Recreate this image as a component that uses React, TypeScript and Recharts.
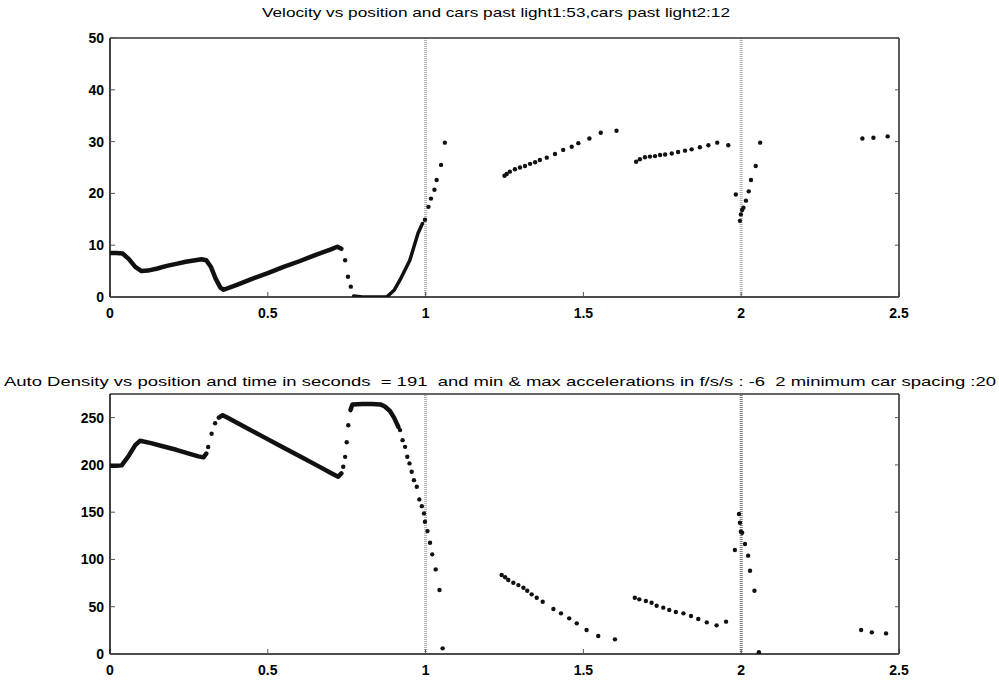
import React from 'react';
import { ComposedChart, Scatter, XAxis, YAxis, ReferenceLine } from 'recharts';

// --- velocity (top) ---
const velCurveA = [
  { x: 0, y: 8.5 }, { x: 0.02, y: 8.5 }, { x: 0.04, y: 8.4 }, { x: 0.06, y: 7.3 },
  { x: 0.08, y: 5.8 }, { x: 0.1, y: 5.0 }, { x: 0.12, y: 5.1 }, { x: 0.15, y: 5.5 },
  { x: 0.18, y: 6.0 }, { x: 0.21, y: 6.4 }, { x: 0.24, y: 6.8 }, { x: 0.27, y: 7.1 },
  { x: 0.29, y: 7.3 }, { x: 0.305, y: 7.1 }, { x: 0.32, y: 5.8 }, { x: 0.335, y: 3.5 },
  { x: 0.35, y: 1.8 }, { x: 0.36, y: 1.4 }, { x: 0.4, y: 2.3 }, { x: 0.45, y: 3.5 },
  { x: 0.5, y: 4.6 }, { x: 0.55, y: 5.8 }, { x: 0.6, y: 6.9 }, { x: 0.65, y: 8.1 },
  { x: 0.7, y: 9.2 }, { x: 0.72, y: 9.7 }, { x: 0.733, y: 9.3 },
];
const velCurveB = [
  { x: 0.772, y: 0.2 }, { x: 0.8, y: 0 }, { x: 0.84, y: 0 }, { x: 0.877, y: 0 },
  { x: 0.9, y: 1.3 }, { x: 0.919, y: 3.3 }, { x: 0.95, y: 7.1 }, { x: 0.976, y: 12.3 },
  { x: 0.99, y: 14.2 },
];
const velDots = [
  { x: 0.745, y: 7.1 }, { x: 0.754, y: 3.9 }, { x: 0.763, y: 2.0 },
  { x: 0.998, y: 14.9 }, { x: 1.009, y: 17.4 }, { x: 1.017, y: 19.0 }, { x: 1.028, y: 20.7 },
  { x: 1.035, y: 22.6 }, { x: 1.049, y: 25.5 }, { x: 1.061, y: 29.8 },
  { x: 1.25, y: 23.4 }, { x: 1.257, y: 23.75 }, { x: 1.267, y: 24.2 }, { x: 1.283, y: 24.65 },
  { x: 1.299, y: 25.0 }, { x: 1.315, y: 25.3 }, { x: 1.331, y: 25.7 }, { x: 1.347, y: 26.0 },
  { x: 1.362, y: 26.45 }, { x: 1.384, y: 26.9 }, { x: 1.41, y: 27.6 }, { x: 1.436, y: 28.4 },
  { x: 1.463, y: 29.0 }, { x: 1.484, y: 29.7 }, { x: 1.519, y: 30.6 }, { x: 1.555, y: 31.7 },
  { x: 1.605, y: 32.1 },
  { x: 1.667, y: 26.1 }, { x: 1.679, y: 26.6 }, { x: 1.695, y: 26.97 }, { x: 1.711, y: 27.1 },
  { x: 1.727, y: 27.2 }, { x: 1.743, y: 27.4 }, { x: 1.759, y: 27.5 }, { x: 1.78, y: 27.7 },
  { x: 1.8, y: 28.0 }, { x: 1.822, y: 28.25 }, { x: 1.843, y: 28.5 }, { x: 1.869, y: 28.9 },
  { x: 1.896, y: 29.3 }, { x: 1.924, y: 29.8 }, { x: 1.959, y: 29.3 },
  { x: 1.983, y: 19.8 }, { x: 1.996, y: 14.7 }, { x: 1.999, y: 15.95 }, { x: 2.003, y: 16.8 },
  { x: 2.007, y: 17.25 }, { x: 2.015, y: 18.6 }, { x: 2.024, y: 20.4 }, { x: 2.031, y: 22.6 },
  { x: 2.046, y: 25.3 }, { x: 2.06, y: 29.8 },
  { x: 2.384, y: 30.6 }, { x: 2.419, y: 30.75 }, { x: 2.464, y: 31.0 },
];

// --- density (bottom) ---
const denCurveA = [
  { x: 0, y: 199 }, { x: 0.02, y: 199 }, { x: 0.037, y: 199.5 }, { x: 0.06, y: 210 },
  { x: 0.08, y: 221 }, { x: 0.095, y: 225.5 }, { x: 0.13, y: 223 }, { x: 0.17, y: 219.5 },
  { x: 0.21, y: 216 }, { x: 0.25, y: 212 }, { x: 0.28, y: 209 }, { x: 0.296, y: 208 },
  { x: 0.305, y: 212 },
];
const denCurveB = [
  { x: 0.345, y: 250 }, { x: 0.357, y: 252.6 }, { x: 0.37, y: 250.5 }, { x: 0.42, y: 241.4 },
  { x: 0.48, y: 230.7 }, { x: 0.54, y: 220 }, { x: 0.6, y: 209.4 }, { x: 0.66, y: 198.7 },
  { x: 0.7, y: 191.5 }, { x: 0.723, y: 187.5 }, { x: 0.733, y: 191 },
];
const denCurveC = [
  { x: 0.762, y: 258 }, { x: 0.768, y: 264 }, { x: 0.8, y: 264.3 }, { x: 0.83, y: 264.3 },
  { x: 0.856, y: 264 }, { x: 0.87, y: 262 }, { x: 0.887, y: 257 }, { x: 0.9, y: 250 },
  { x: 0.914, y: 240 },
];
const denDots = [
  { x: 0.311, y: 219 }, { x: 0.322, y: 233 }, { x: 0.333, y: 244 },
  { x: 0.739, y: 198 }, { x: 0.745, y: 208.5 }, { x: 0.75, y: 224 }, { x: 0.755, y: 242 },
  { x: 0.919, y: 236.8 }, { x: 0.927, y: 226.2 }, { x: 0.935, y: 219.1 }, { x: 0.942, y: 208.6 },
  { x: 0.949, y: 201.6 }, { x: 0.956, y: 192.7 }, { x: 0.963, y: 183.9 }, { x: 0.972, y: 176.9 },
  { x: 0.98, y: 163.5 }, { x: 0.988, y: 156.4 }, { x: 0.995, y: 148.7 }, { x: 0.998, y: 139.9 },
  { x: 1.006, y: 130 }, { x: 1.014, y: 117.7 }, { x: 1.021, y: 105.4 }, { x: 1.032, y: 89.5 },
  { x: 1.044, y: 67.7 }, { x: 1.054, y: 6 },
  { x: 1.241, y: 83.5 }, { x: 1.252, y: 81.1 }, { x: 1.262, y: 78.2 }, { x: 1.278, y: 75.4 },
  { x: 1.294, y: 72.9 }, { x: 1.31, y: 70.1 }, { x: 1.322, y: 66.9 }, { x: 1.336, y: 63.1 },
  { x: 1.352, y: 59.5 }, { x: 1.371, y: 55.3 }, { x: 1.405, y: 47.6 }, { x: 1.429, y: 43 },
  { x: 1.455, y: 37.7 }, { x: 1.479, y: 32.4 }, { x: 1.51, y: 25.4 }, { x: 1.547, y: 19 },
  { x: 1.6, y: 15.5 },
  { x: 1.663, y: 59.5 }, { x: 1.677, y: 57.8 }, { x: 1.698, y: 56 }, { x: 1.716, y: 54.2 },
  { x: 1.732, y: 51.1 }, { x: 1.753, y: 49 }, { x: 1.772, y: 46.5 }, { x: 1.793, y: 44.4 },
  { x: 1.817, y: 43 }, { x: 1.841, y: 40.2 }, { x: 1.864, y: 37 }, { x: 1.891, y: 33.5 },
  { x: 1.922, y: 30.3 }, { x: 1.952, y: 34.2 },
  { x: 1.98, y: 110 }, { x: 1.993, y: 148 }, { x: 1.996, y: 138.8 }, { x: 1.999, y: 129.3 },
  { x: 2.003, y: 128.3 }, { x: 2.012, y: 116.3 }, { x: 2.022, y: 104 }, { x: 2.028, y: 88.1 },
  { x: 2.042, y: 66.9 }, { x: 2.056, y: 1.8 },
  { x: 2.38, y: 25.4 }, { x: 2.414, y: 22.9 }, { x: 2.459, y: 21.8 },
];

const xTicks = [0, 0.5, 1, 1.5, 2, 2.5];
const velTicks = [0, 10, 20, 30, 40, 50];
const denTicks = [0, 50, 100, 150, 200, 250];
const lightPositions = [1, 2];

const title1 = 'Velocity vs position and cars past light1:53,cars past light2:12';
const title2 = 'Auto Density vs position and time in seconds  = 191  and min & max accelerations in f/s/s : -6  2 minimum car spacing :20';

const INK = '#111';
const FONT = '"Liberation Sans", Arial, Helvetica, sans-serif';
const tickStyle = { fill: '#000', fontSize: 14, fontWeight: 'bold' as const, fontFamily: FONT };

const dot = (props: any) => <circle cx={props.cx} cy={props.cy} r={2.2} fill={INK} />;
const noDot = () => <g />;

function Panel({ curves, widths, dots, yTicks, yMax, top, plotTop, plotBottom, darkSecondLight }: any) {
  const H = 320;
  return (
    <div style={{ position: 'absolute', left: 0, top }}>
      <ComposedChart
        width={999}
        height={H}
        margin={{ top: plotTop - 1, right: 99, bottom: H - plotBottom - 23, left: 70 }}
      >
        <XAxis xAxisId="b" type="number" dataKey="x" domain={[0, 2.5]} ticks={xTicks} height={23}
          tick={tickStyle} tickSize={-5} tickMargin={16} axisLine={{ stroke: INK, strokeWidth: 1.6 }}
          tickLine={{ stroke: '#555' }} allowDataOverflow />
        <XAxis xAxisId="t" orientation="top" type="number" domain={[0, 2.5]} ticks={xTicks} height={1}
          tickFormatter={() => ''} tickSize={-4} axisLine={{ stroke: '#333', strokeWidth: 1.3 }}
          tickLine={{ stroke: '#777' }} allowDataOverflow />
        <YAxis yAxisId="l" type="number" dataKey="y" domain={[0, yMax]} ticks={yTicks} width={40}
          tick={tickStyle} tickSize={-5} tickMargin={11} axisLine={{ stroke: INK, strokeWidth: 1.6 }}
          tickLine={{ stroke: '#555' }} allowDataOverflow />
        <YAxis yAxisId="r" orientation="right" type="number" domain={[0, yMax]} ticks={yTicks} width={1}
          tickFormatter={() => ''} tickSize={-4} axisLine={{ stroke: '#333', strokeWidth: 1.6 }}
          tickLine={{ stroke: '#555' }} allowDataOverflow />
        {lightPositions.map((p: number, i: number) => (
          <ReferenceLine key={p} xAxisId="b" yAxisId="l" x={p}
            stroke={darkSecondLight && i === 1 ? '#777' : '#b0b0b0'} strokeWidth={3} strokeDasharray="1 1" />
        ))}
        {curves.map((c: any, i: number) => (
          <Scatter key={i} xAxisId="b" yAxisId="l" data={c} fill={INK} shape={noDot}
            line={{ stroke: INK, strokeWidth: widths[i], strokeLinecap: 'round', strokeLinejoin: 'round' }}
            isAnimationActive={false} />
        ))}
        <Scatter xAxisId="b" yAxisId="l" data={dots} fill={INK} shape={dot} isAnimationActive={false} />
      </ComposedChart>
    </div>
  );
}

export default function App() {
  return (
    <div style={{ position: 'absolute', left: 0, top: 0, width: 999, height: 685, background: '#fff', overflow: 'hidden' }}>
      <Panel curves={[velCurveA, velCurveB]} widths={[4.5, 3.5]} dots={velDots} yTicks={velTicks} yMax={50}
        top={0} plotTop={38} plotBottom={297} />
      <Panel curves={[denCurveA, denCurveB, denCurveC]} widths={[4.5, 4.5, 4.5]} dots={denDots} yTicks={denTicks} yMax={275}
        top={360} plotTop={34} plotBottom={294} darkSecondLight />
      <svg width={999} height={685} style={{ position: 'absolute', left: 0, top: 0, pointerEvents: 'none' }}>
        <text x={262} y={17} fontSize={13.5} fontFamily={FONT} fill="#000"
          textLength={468} lengthAdjust="spacingAndGlyphs">{title1}</text>
        <text x={4} y={386} fontSize={13.5} fontFamily={FONT} fill="#000"
          textLength={992} lengthAdjust="spacingAndGlyphs" style={{ whiteSpace: 'pre' }}>{title2}</text>
      </svg>
    </div>
  );
}
